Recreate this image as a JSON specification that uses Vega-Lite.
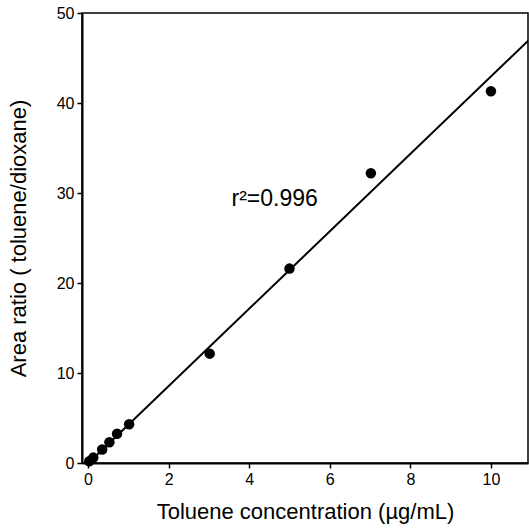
{
  "$schema": "https://vega.github.io/schema/vega-lite/v6.json",
  "width": 446,
  "height": 450,
  "autosize": {"type": "none"},
  "padding": {"left": 82, "top": 13, "right": 1, "bottom": 69},
  "background": "white",
  "config": {
    "font": "Liberation Sans",
    "view": {"stroke": "black", "strokeWidth": 1.5},
    "axis": {
      "domainColor": "black",
      "domainWidth": 2,
      "tickColor": "black",
      "tickWidth": 1.5,
      "tickSize": 5,
      "grid": false,
      "labelColor": "black",
      "labelFont": "Liberation Sans",
      "labelFontSize": 16,
      "titleFont": "Liberation Sans",
      "titleFontSize": 22,
      "titleFontWeight": "normal",
      "titleColor": "black"
    }
  },
  "datasets": {
    "points": [
      {"conc": 0.03, "ratio": 0.2},
      {"conc": 0.13, "ratio": 0.6},
      {"conc": 0.35, "ratio": 1.5},
      {"conc": 0.53, "ratio": 2.3},
      {"conc": 0.72, "ratio": 3.25},
      {"conc": 1.02, "ratio": 4.3},
      {"conc": 3.02, "ratio": 12.15},
      {"conc": 5.0, "ratio": 21.6},
      {"conc": 7.02, "ratio": 32.2},
      {"conc": 10.0, "ratio": 41.3}
    ],
    "fit": [
      {"conc": 0.0, "ratio": -0.06},
      {"conc": 11.0, "ratio": 47.24}
    ],
    "note": [
      {"conc": 3.56, "ratio": 28.6, "label": "r²=0.996"}
    ]
  },
  "layer": [
    {
      "data": {"name": "fit"},
      "mark": {"type": "line", "color": "black", "strokeWidth": 2, "clip": true},
      "encoding": {
        "x": {
          "field": "conc", "type": "quantitative",
          "scale": {"domain": [-0.15, 10.92], "nice": false, "zero": false},
          "axis": {"values": [0, 2, 4, 6, 8, 10], "title": "Toluene concentration (µg/mL)", "labelPadding": 3, "titlePadding": 14}
        },
        "y": {
          "field": "ratio", "type": "quantitative",
          "scale": {"domain": [0, 50], "nice": false, "zero": false},
          "axis": {"values": [0, 10, 20, 30, 40, 50], "title": "Area ratio ( toluene/dioxane)", "labelPadding": 3, "titlePadding": 26}
        }
      }
    },
    {
      "data": {"name": "points"},
      "mark": {"type": "circle", "color": "black", "opacity": 1, "size": 110},
      "encoding": {
        "x": {"field": "conc", "type": "quantitative"},
        "y": {"field": "ratio", "type": "quantitative"}
      }
    },
    {
      "data": {"name": "note"},
      "mark": {"type": "text", "align": "left", "baseline": "alphabetic", "fontSize": 23, "font": "Liberation Sans", "color": "black"},
      "encoding": {
        "x": {"field": "conc", "type": "quantitative"},
        "y": {"field": "ratio", "type": "quantitative"},
        "text": {"field": "label"}
      }
    }
  ]
}
